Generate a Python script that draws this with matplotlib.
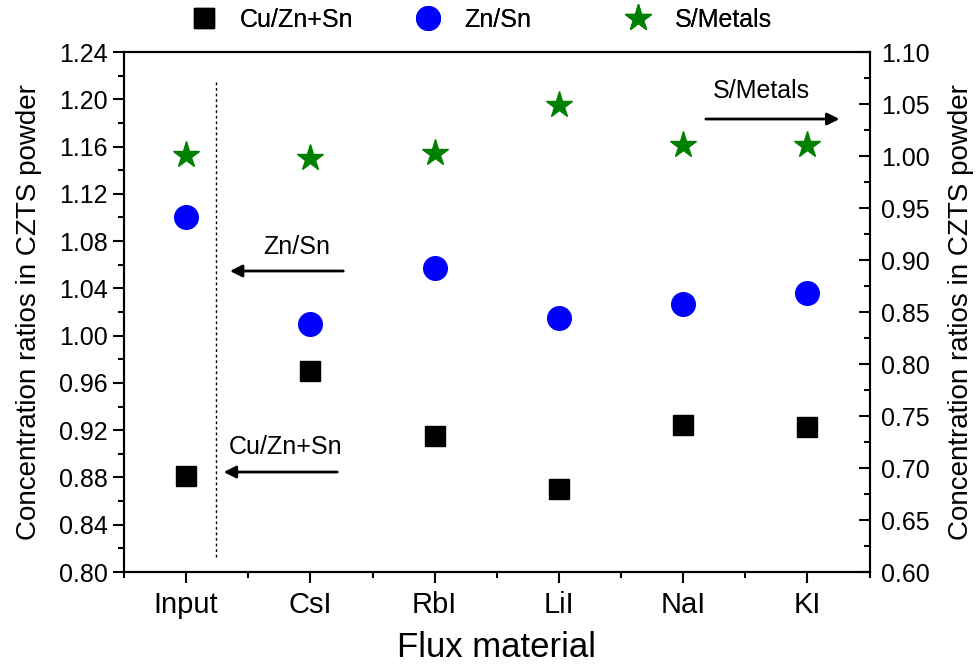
import matplotlib.pyplot as plt
from matplotlib.ticker import MultipleLocator, FormatStrFormatter

plt.rcParams['font.family'] = ['Liberation Sans', 'DejaVu Sans']

FLUX = ['Input', 'CsI', 'RbI', 'LiI', 'NaI', 'KI']
CU_ZN_SN = [0.881, 0.970, 0.915, 0.870, 0.924, 0.923]
ZN_SN = [1.100, 1.010, 1.057, 1.015, 1.027, 1.036]
S_METALS = [1.001, 0.998, 1.003, 1.049, 1.011, 1.011]

x = list(range(len(FLUX)))

fig = plt.figure(figsize=(9.76, 6.71), dpi=100)
ax = fig.add_axes([0.127, 0.1475, 0.764, 0.775])
ax2 = ax.twinx()

h1, = ax.plot(x, CU_ZN_SN, linestyle='none', marker='s', markersize=14,
              color='black', label='Cu/Zn+Sn')
h2, = ax.plot(x, ZN_SN, linestyle='none', marker='o', markersize=17,
              color='blue', label='Zn/Sn')
h3, = ax2.plot(x, S_METALS, linestyle='none', marker='*', markersize=20,
               color='green', label='S/Metals')

ax.set_xlim(-0.5, 5.5)
ax.set_ylim(0.80, 1.24)
ax2.set_ylim(0.60, 1.10)

ax.set_xticks(x)
ax.set_xticklabels(FLUX)
ax.xaxis.set_minor_locator(MultipleLocator(0.5))
ax.yaxis.set_major_locator(MultipleLocator(0.04))
ax.yaxis.set_minor_locator(MultipleLocator(0.02))
ax.yaxis.set_major_formatter(FormatStrFormatter('%.2f'))
ax2.yaxis.set_major_locator(MultipleLocator(0.05))
ax2.yaxis.set_minor_locator(MultipleLocator(0.025))
ax2.yaxis.set_major_formatter(FormatStrFormatter('%.2f'))

ax.tick_params(axis='both', which='major', direction='out', length=8, width=1.5, labelsize=18)
ax.tick_params(axis='x', labelsize=21, pad=6)
ax.tick_params(axis='both', which='minor', direction='out', length=4, width=1.5)
ax.tick_params(axis='y', right=False)
ax2.tick_params(axis='y', which='major', direction='in', length=8, width=1.5, labelsize=18, pad=8)
ax2.tick_params(axis='y', which='minor', direction='in', length=4, width=1.5)

for a in (ax, ax2):
    for s in a.spines.values():
        s.set_linewidth(1.5)

ax.set_xlabel('Flux material', fontsize=25, labelpad=8)
ax.set_ylabel('Concentration ratios in CZTS powder', fontsize=20, labelpad=12)
ax2.set_ylabel('Concentration ratios in CZTS powder', fontsize=20, labelpad=13)

# dotted separator after the input composition
ax.plot([0.24, 0.24], [0.813, 1.215], color='black', linestyle=(0, (2, 2)), linewidth=1)

arrow = dict(arrowstyle='-|>', color='black', lw=2, mutation_scale=18)
ax.annotate('', xy=(0.33, 1.0547), xytext=(1.287, 1.0547), arrowprops=arrow)
ax.text(0.89, 1.075, 'Zn/Sn', fontsize=18, ha='center', va='center')
ax.annotate('', xy=(0.28, 0.8846), xytext=(1.239, 0.8846), arrowprops=arrow)
ax.text(0.80, 0.906, 'Cu/Zn+Sn', fontsize=18, ha='center', va='center')
ax.annotate('', xy=(5.28, 1.1833), xytext=(4.16, 1.1833), arrowprops=arrow)
ax.text(4.63, 1.207, 'S/Metals', fontsize=18, ha='center', va='center')

# legend entries sit at uneven spacing along the top, one legend each
legend_x = [0.196, 0.4257, 0.641]
for h, lx in zip([h1, h2, h3], legend_x):
    leg = fig.legend(handles=[h], loc='center left', bbox_to_anchor=(lx, 0.97),
                     frameon=False, fontsize=18, borderpad=0, borderaxespad=0,
                     handlelength=1.0, handletextpad=0.95)
    fig.add_artist(leg)

fig.savefig('out.png', dpi=100)
